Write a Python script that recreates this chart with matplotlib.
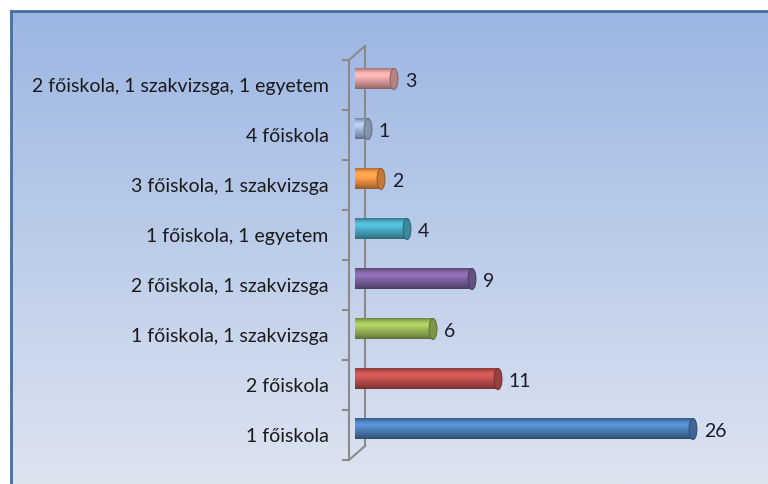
import numpy as np
import matplotlib.pyplot as plt
from matplotlib.patches import Ellipse
from matplotlib.colors import to_rgb
from matplotlib.transforms import blended_transform_factory

# Data (bottom to top)
categories = ['1 főiskola', '2 főiskola', '1 főiskola, 1 szakvizsga',
              '2 főiskola, 1 szakvizsga', '1 főiskola, 1 egyetem',
              '3 főiskola, 1 szakvizsga', '4 főiskola',
              '2 főiskola, 1 szakvizsga, 1 egyetem']
values = [26, 11, 6, 9, 4, 2, 1, 3]
colors = ['#4F81BD', '#C0504D', '#9BBB59', '#8064A2', '#4BACC6',
          '#F79646', '#A5B8DA', '#E6A3A3']

plt.rcParams['font.family'] = ['Lato', 'DejaVu Sans']

W, H = 768, 484
fig = plt.figure(figsize=(W / 100, H / 100), dpi=100, facecolor='white')

# Background panel with gradient and border on top/left
bg = fig.add_axes([11 / W, 0, 1 - 11 / W, (H - 11) / H])
top = np.array(to_rgb('#9CB6E3'))
bot = np.array(to_rgb('#DDE4F0'))
t = np.linspace(0, 1, 256)[:, None]
grad = top * (1 - t) + bot * t
bg.imshow(grad[:, None, :], aspect='auto', extent=(0, 1, 0, 1), origin='upper')
bg.set_xlim(0, 1)
bg.set_ylim(0, 1)
bg.set_xticks([])
bg.set_yticks([])
for s in ['right', 'bottom']:
    bg.spines[s].set_visible(False)
for s in ['top', 'left']:
    bg.spines[s].set_color('#4A6C9E')
    bg.spines[s].set_linewidth(2)

# Main plotting axes (pixel geometry of the reference)
px_left, px_bottom, px_w, px_h = 355, 460, 390, 400
ax = fig.add_axes([px_left / W, (H - px_bottom) / H, px_w / W, px_h / H])
ax.set_facecolor('none')
ax.set_xlim(0, 30)
ax.set_ylim(-0.5, len(categories) - 0.5)
for s in ax.spines.values():
    s.set_visible(False)
ax.set_xticks([])

y = np.arange(len(categories))
ax.set_yticks(y)
ax.set_yticklabels(categories, fontsize=14, color='#1A1A1A')
ax.tick_params(axis='y', length=0, pad=19)

# 3D wall frame
fx = -6 / px_w
bx = 10 / px_w
dy = 14 / px_h
lc = '#8A8A8A'
ax.plot([fx, fx], [0, 1], color=lc, lw=1.5, transform=ax.transAxes, clip_on=False)
ax.plot([bx, bx], [dy, 1 + dy], color=lc, lw=1.5, transform=ax.transAxes, clip_on=False)
ax.plot([fx, bx], [1, 1 + dy], color=lc, lw=1.5, transform=ax.transAxes, clip_on=False)
ax.plot([fx, bx], [0, dy], color=lc, lw=1.5, transform=ax.transAxes, clip_on=False)
btr = blended_transform_factory(ax.transAxes, ax.transData)
for b in np.arange(len(categories) + 1) - 0.5:
    ax.plot([fx - 6 / px_w, fx], [b, b], color=lc, lw=1.5, transform=btr, clip_on=False)

# Cylinder bars
bh = 0.42
yoff = 0.12
shade = np.array([0.72, 0.92, 1.1, 1.16, 1.08, 0.98, 0.9, 0.82, 0.72, 0.6])
cap_w = 0.6
for yi, v, c in zip(y, values, colors):
    base = np.array(to_rgb(c))
    yc = yi + yoff
    s = np.interp(np.linspace(0, 1, 64), np.linspace(0, 1, len(shade)), shade)
    body = np.clip(base[None, :] * s[:, None], 0, 1)
    ax.imshow(body[:, None, :], aspect='auto', origin='upper',
              extent=(0, v, yc - bh / 2, yc + bh / 2), zorder=3)
    ax.add_patch(Ellipse((v, yc), cap_w, bh, facecolor=np.clip(base * 0.8, 0, 1),
                         edgecolor=np.clip(base * 0.62, 0, 1), lw=0.8, zorder=4))
    ax.annotate(str(v), (v + cap_w / 2, yc), xytext=(5, -2), textcoords='offset points',
                ha='left', va='center', fontsize=14, color='#1A1A2A', zorder=5)

fig.savefig('out.png', dpi=100, facecolor='white')
